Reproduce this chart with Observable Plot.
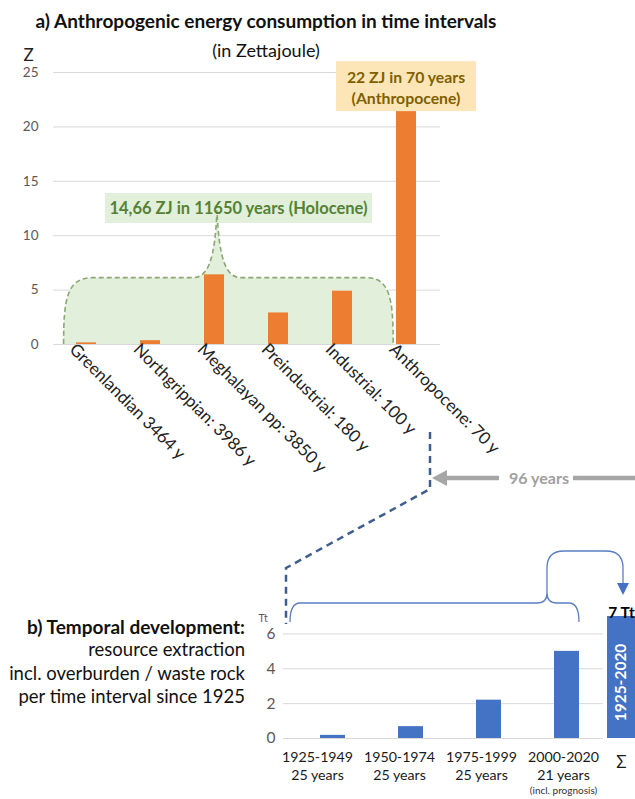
<!DOCTYPE html>
<html><head><meta charset="utf-8">
<script src="https://cdn.jsdelivr.net/npm/d3@7"></script>
<script src="https://cdn.jsdelivr.net/npm/@observablehq/plot@0.6"></script>
<style>
html,body{margin:0;padding:0;background:#fff;}
#wrap{position:relative;width:635px;height:799px;overflow:hidden;font-family:Lato,"Open Sans",sans-serif;background:#fff;}
#wrap > svg{position:absolute;}
</style></head><body>
<div id="wrap"></div>
<script>
// ---------- data ----------
const eraLabels = ["Greenlandian 3464 y","Northgrippian: 3986 y","Meghalayan pp: 3850 y","Preindustrial: 180 y","Industrial: 100 y","Anthropocene: 70 y"];
const energyZJ = [0.15, 0.35, 6.4, 2.9, 4.9, 22];
const yTicksA = [0, 5, 10, 15, 20, 25];

const intervals = ["1925-1949","1950-1974","1975-1999","2000-2020"];
const intervalYears = ["25 years","25 years","25 years","21 years"];
const intervalNotes = ["","","","(incl. prognosis)"];
const extractionTt = [0.18, 0.68, 2.2, 5.0];
const totalLabel = "Σ";
const totalSpan = "1925-2020";
const totalTt = 7;
const yTicksB = [0, 2, 4, 6];

const titleA = "a) Anthropogenic energy consumption in time intervals";
const subtitleA = "(in Zettajoule)";
const holoceneNote = "14,66 ZJ in 11650 years (Holocene)";
const anthropoceneNote = ["22 ZJ in 70 years", "(Anthropocene)"];
const gapNote = "96 years";
const titleB = ["b) Temporal development:", "resource extraction", "incl. overburden / waste rock", "per time interval since 1925"];

// ---------- tables ----------
const tableA = eraLabels.map((era, i) => ({era, value: energyZJ[i]}));
const tableB = intervals.map((p, i) => ({period: p, years: intervalYears[i], note: intervalNotes[i], value: extractionTt[i]}));
const tableS = [{label: totalLabel, span: totalSpan, value: totalTt}];

const FONT = "Lato, 'Open Sans', sans-serif";
const wrap = document.getElementById("wrap");
const NS = "http://www.w3.org/2000/svg";
function el(tag, attrs, parent, before) {
  const e = document.createElementNS(NS, tag);
  for (const k in attrs) e.setAttribute(k, attrs[k]);
  if (before) parent.insertBefore(e, before); else parent.appendChild(e);
  return e;
}
function txt(parent, s, attrs) { const t = el("text", attrs, parent); t.textContent = s; return t; }

// ---------- panel a ----------
const plotA = Plot.plot({
  width: 635, height: 480,
  marginLeft: 53, marginRight: 195, marginTop: 72, marginBottom: 136,
  style: {fontFamily: FONT, background: "transparent", overflow: "visible"},
  x: {type: "band", domain: eraLabels, paddingInner: 0.68, paddingOuter: 0.34, align: 0.5, axis: null},
  y: {domain: [0, 25], axis: null},
  marks: [
    Plot.gridY(yTicksA, {stroke: "#D9D9D9", strokeOpacity: 1}),
    Plot.axisY(yTicksA, {tickSize: 0, tickPadding: 15, fontSize: 13.5, fill: "#595959", label: null}),
    Plot.barY(tableA, {x: "era", y: "value", fill: "#ED7D31"}),
    Plot.text(eraLabels, {x: d => d, text: d => d, frameAnchor: "bottom", rotate: 45, textAnchor: "start", dx: -18, dy: 6, fontSize: 17, fill: "#222"}),
    Plot.text(["Z"], {frameAnchor: "top-left", text: d => d, textAnchor: "start", lineAnchor: "middle", dx: -30, dy: -17, fontSize: 17, fill: "#222"})
  ]
});
plotA.style.left = "0px"; plotA.style.top = "0px";
wrap.appendChild(plotA);

{
  const sx = plotA.scale("x"), sy = plotA.scale("y");
  const bw = sx.bandwidth, step = sx.step;
  const c = i => sx.apply(eraLabels[i]) + bw / 2;
  const yB = sy.apply(0), yT = sy.apply(6.1), yP = sy.apply(12.3);
  const xL = c(0) - 0.35 * step, xR = c(5) - 0.2 * step, xP = c(2) + 3;
  const curve = `M${xL},${yB} C${xL},${yT+22} ${xL+3},${yT} ${xL+29},${yT} L${xP-24},${yT} C${xP-9},${yT} ${xP-2},${yT-18} ${xP},${yP} C${xP+2},${yT-18} ${xP+9},${yT} ${xP+24},${yT} L${xR-27},${yT} C${xR-3},${yT} ${xR},${yT+22} ${xR},${yB}`;
  const barG = plotA.querySelector('g[aria-label="bar"]');
  el("path", {d: curve + " Z", fill: "#E2EFDA", stroke: "none"}, plotA, barG);
  // holocene box
  const hx = c(2) + 24.5, hy = sy.apply(12.5);
  el("rect", {x: hx - 133.5, y: hy - 15, width: 267, height: 30, fill: "#E2EFDA"}, plotA);
  el("path", {d: curve, fill: "none", stroke: "#8AA874", "stroke-width": 1.6, "stroke-dasharray": "5,3"}, plotA);
  txt(plotA, holoceneNote, {x: hx, y: hy + 6, "text-anchor": "middle", "font-weight": 700, "font-size": 16.5, fill: "#548235", "font-family": FONT});
  // anthropocene box
  const ax = c(5), ay = sy.apply(23.7);
  el("rect", {x: ax - 70, y: ay - 25, width: 140, height: 50, fill: "#FCE6B8"}, plotA);
  txt(plotA, anthropoceneNote[0], {x: ax, y: ay - 3, "text-anchor": "middle", "font-weight": 700, "font-size": 15.8, fill: "#7F6000", "font-family": FONT});
  txt(plotA, anthropoceneNote[1], {x: ax, y: ay + 18, "text-anchor": "middle", "font-weight": 700, "font-size": 15.8, fill: "#7F6000", "font-family": FONT});
}

// ---------- panel b ----------
const plotB = Plot.plot({
  width: 635, height: 239,
  marginLeft: 283, marginRight: 32, marginTop: 56, marginBottom: 61,
  style: {fontFamily: FONT, background: "transparent", overflow: "visible"},
  x: {type: "band", domain: intervals, paddingInner: 0.68, paddingOuter: 0.37, align: 0.6, axis: null},
  y: {domain: [0, 7], axis: null},
  marks: [
    Plot.gridY(yTicksB, {stroke: "#D9D9D9", strokeOpacity: 1}),
    Plot.axisY(yTicksB, {tickSize: 0, tickPadding: 8, fontSize: 15.5, fill: "#595959", label: null}),
    Plot.barY(tableB, {x: "period", y: "value", fill: "#4472C4"}),
    Plot.text(["Tt"], {frameAnchor: "top-left", text: d => d, textAnchor: "start", lineAnchor: "middle", dx: -25, dy: 2, fontSize: 10.5, fill: "#595959"})
  ]
});
plotB.style.left = "0px"; plotB.style.top = "560px";
wrap.appendChild(plotB);

// category labels of panel b (slightly wider spacing than the bars, as in the original)
const plotBLabels = Plot.plot({
  width: 635, height: 239,
  marginLeft: 275.5, marginRight: 30.3, marginTop: 56, marginBottom: 61,
  style: {fontFamily: FONT, background: "transparent", overflow: "visible"},
  x: {type: "band", domain: intervals, padding: 0, axis: null},
  y: {domain: [0, 7], axis: null},
  marks: [
    Plot.text(tableB, {x: "period", text: d => d.period + "\n" + d.years, frameAnchor: "bottom", lineAnchor: "top", dy: 11, lineHeight: 1.25, fontSize: 14.2, fill: "#1a1a1a"}),
    Plot.text(tableB, {x: "period", text: "note", frameAnchor: "bottom", lineAnchor: "top", dy: 48, fontSize: 10, fill: "#333"})
  ]
});
plotBLabels.style.left = "0px"; plotBLabels.style.top = "560px";
wrap.appendChild(plotBLabels);

const plotS = Plot.plot({
  width: 75, height: 239,
  marginLeft: 47, marginRight: 0, marginTop: 56, marginBottom: 61,
  style: {fontFamily: FONT, background: "transparent", overflow: "visible"},
  x: {type: "band", domain: [totalLabel], padding: 0, axis: null},
  y: {domain: [0, 7], axis: null},
  marks: [
    Plot.barY(tableS, {x: "label", y: "value", fill: "#4472C4"}),
    Plot.text(tableS, {x: "label", y: "value", text: d => `${d.value} Tt`, lineAnchor: "bottom", dy: 1, fontSize: 15.5, fontWeight: 700, fill: "#000"}),
    Plot.text(tableS, {x: "label", y: d => d.value / 2, text: "span", rotate: -90, dy: 5, fontSize: 15.5, fontWeight: 700, fill: "#fff"}),
    Plot.text(tableS, {x: "label", text: "label", frameAnchor: "bottom", lineAnchor: "top", dy: 17, fontSize: 17, fill: "#1a1a1a"})
  ]
});
plotS.style.left = "560px"; plotS.style.top = "560px";
wrap.appendChild(plotS);

// ---------- overlay annotations ----------
const ov = el("svg", {width: 635, height: 799, style: "left:0;top:0;overflow:hidden;pointer-events:none", "font-family": FONT}, wrap);
txt(ov, titleA, {x: 266, y: 28, "text-anchor": "middle", "font-weight": 700, "font-size": 19, fill: "#111"});
txt(ov, subtitleA, {x: 266, y: 57, "text-anchor": "middle", "font-size": 18, fill: "#111"});
titleB.forEach((s, i) => txt(ov, s, {x: 245, y: [634, 656, 680, 703][i], "text-anchor": "end", "font-weight": i === 0 ? 700 : 400, "font-size": i === 0 ? 19 : 18.5, fill: "#111"}));

// dashed connector from panel a to panel b
el("path", {d: "M430,432 L430,489 L286,568 L286,624", fill: "none", stroke: "#3F5D8F", "stroke-width": 2.5, "stroke-dasharray": "7,5"}, ov);
// grey arrow "96 years"
el("line", {x1: 444, y1: 478, x2: 499, y2: 478, stroke: "#A6A6A6", "stroke-width": 4.5}, ov);
el("polygon", {points: "432,478 447,470 447,486", fill: "#A6A6A6"}, ov);
el("line", {x1: 573, y1: 478, x2: 640, y2: 478, stroke: "#A6A6A6", "stroke-width": 4.5}, ov);
txt(ov, gapNote, {x: 539, y: 484, "text-anchor": "middle", "font-weight": 700, "font-size": 16, fill: "#A0A0A0"});
// brace + curved arrow
el("path", {d: "M290,622 Q290,603 300,603 L537,603 Q547,603 547,593 L547,568 Q547,551 564,551 L606,551 Q623,551 623,568 L623,584 M547,593 Q547,603 557,603 L569,603 Q579,603 579,622", fill: "none", stroke: "#5A7EC2", "stroke-width": 1.3}, ov);
el("polygon", {points: "617,583 629,583 623,595", fill: "#4472C4"}, ov);
</script>
</body></html>
